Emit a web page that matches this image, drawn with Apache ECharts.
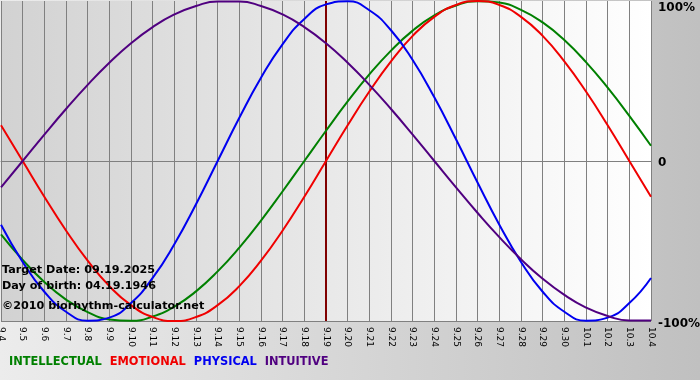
<!DOCTYPE html>
<html>
<head>
<meta charset="utf-8">
<script src="https://cdn.jsdelivr.net/npm/echarts@6/dist/echarts.min.js"></script>
<style>
html,body{margin:0;padding:0;background:#fff;}
#chart{width:700px;height:380px;}
</style>
</head>
<body>
<div id="chart"></div>
<script>
var dates = ['9.4','9.5','9.6','9.7','9.8','9.9','9.10','9.11','9.12','9.13','9.14','9.15','9.16','9.17','9.18','9.19','9.20','9.21','9.22','9.23','9.24','9.25','9.26','9.27','9.28','9.29','9.30','10.1','10.2','10.3','10.4'];
var intellectual = [-45.8,-61.8,-75.6,-86.6,-94.5,-99.0,-99.9,-97.2,-91.0,-81.5,-69.0,-54.1,-37.2,-18.9,0,18.9,37.2,54.1,69.0,81.5,91.0,97.2,99.9,99.0,94.5,86.6,75.6,61.8,45.8,28.2,9.5];
var emotional = [22.3,0,-22.3,-43.4,-62.3,-78.2,-90.1,-97.5,-100,-97.5,-90.1,-78.2,-62.3,-43.4,-22.3,0,22.3,43.4,62.3,78.2,90.1,97.5,100,97.5,90.1,78.2,62.3,43.4,22.3,0,-22.3];
var physical = [-39.8,-63.1,-81.7,-94.2,-99.8,-97.9,-88.8,-73.1,-52.0,-27.0,0,27.0,52.0,73.1,88.8,97.9,99.8,94.2,81.7,63.1,39.8,13.6,-13.6,-39.8,-63.1,-81.7,-94.2,-99.8,-97.9,-88.8,-73.1];
var intuitive = [-16.5,0,16.5,32.5,47.6,61.4,73.6,83.7,91.6,96.9,99.7,99.7,96.9,91.6,83.7,73.6,61.4,47.6,32.5,16.5,0,-16.5,-32.5,-47.6,-61.4,-73.6,-83.7,-91.6,-96.9,-99.7,-99.7];
var targetDay = '9.19';
var infoLines = ['Target Date: 09.19.2025', 'Day of birth: 04.19.1946', '\u00a92010 biorhythm-calculator.net'];

var seriesDefs = [
  {name: 'INTELLECTUAL', data: intellectual, color: '#008000'},
  {name: 'EMOTIONAL', data: emotional, color: '#f00000'},
  {name: 'PHYSICAL', data: physical, color: '#0000f0'},
  {name: 'INTUITIVE', data: intuitive, color: '#500080'}
];

var chart = echarts.init(document.getElementById('chart'), null, {renderer: 'canvas'});
var series = seriesDefs.map(function (s, i) {
  var o = {
    name: s.name, type: 'line', data: s.data, smooth: true, symbol: 'none',
    lineStyle: {color: s.color, width: 2}, itemStyle: {color: s.color}, z: 3
  };
  if (i === 0) {
    o.markLine = {
      silent: true, symbol: 'none', label: {show: false},
      lineStyle: {color: '#800000', width: 2, type: 'solid'},
      data: [{xAxis: targetDay}], z: 2
    };
  }
  return o;
});

chart.setOption({
  animation: false,
  backgroundColor: new echarts.graphic.LinearGradient(0, 0, 1, 0, [
    {offset: 0, color: '#ececec'}, {offset: 1, color: '#c0c0c0'}
  ]),
  grid: {
    left: 1, right: 49, top: 1, bottom: 59, show: true, borderWidth: 0,
    outerBoundsMode: 'none', containLabel: false,
    backgroundColor: new echarts.graphic.LinearGradient(0, 0, 1, 0, [
      {offset: 0, color: '#d2d2d2'}, {offset: 1, color: '#ffffff'}
    ])
  },
  legend: {
    left: -1, top: 352, icon: 'none', itemWidth: 0, itemHeight: 10, itemGap: 3,
    selectedMode: false,
    textStyle: {fontFamily: 'DejaVu Sans', fontWeight: 'bold', fontSize: 11.4},
    data: seriesDefs.map(function (s) { return {name: s.name, textStyle: {color: s.color}}; })
  },
  xAxis: {
    type: 'category', data: dates, boundaryGap: false,
    axisLine: {lineStyle: {color: '#808080', width: 1}},
    axisTick: {show: true, length: 4, lineStyle: {color: '#808080'}},
    splitLine: {show: true, lineStyle: {color: '#808080', width: 1}},
    axisLabel: {interval: 0, rotate: -90, margin: 6, fontFamily: 'DejaVu Sans', fontSize: 9, color: '#000'}
  },
  yAxis: {
    type: 'value', position: 'right', min: -100, max: 100, interval: 100,
    axisLine: {show: false}, axisTick: {show: false},
    splitLine: {show: true, lineStyle: {color: ['#808080', '#808080', 'rgba(0,0,0,0)'], width: 1}},
    axisLabel: {
      margin: 7, color: '#000', fontFamily: 'DejaVu Sans', fontWeight: 'bold', fontSize: 12,
      formatter: function (v) {
        if (v === 100) return '{t|100%}';
        if (v === 0) return '{z|0}';
        return '{b|' + v + '%}';
      },
      rich: {
        t: {fontFamily: 'DejaVu Sans', fontWeight: 'bold', fontSize: 12, color: '#000', padding: [13, 0, 0, 0]},
        z: {fontFamily: 'DejaVu Sans', fontWeight: 'bold', fontSize: 12, color: '#000', padding: [4, 0, 0, 0]},
        b: {fontFamily: 'DejaVu Sans', fontWeight: 'bold', fontSize: 12, color: '#000', padding: [5, 0, 0, 0]}
      }
    }
  },
  graphic: infoLines.map(function (t, i) {
    return {
      type: 'text', left: 2, top: [265, 281, 301][i], z: 10,
      style: {text: t, fill: '#000', font: 'bold 11.2px "DejaVu Sans"'}
    };
  }),
  series: series
});
</script>
</body>
</html>
